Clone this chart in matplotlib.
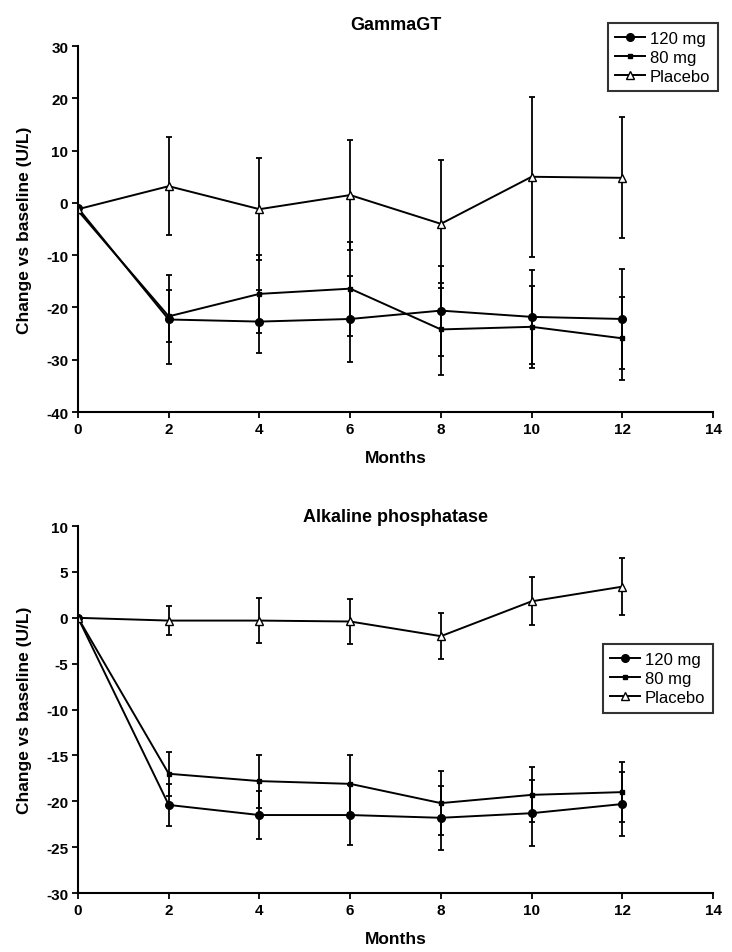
import matplotlib
matplotlib.use("Agg")
import matplotlib.pyplot as plt
from matplotlib.lines import Line2D

plt.rcParams['font.family'] = ['Liberation Sans', 'DejaVu Sans']
plt.rcParams['axes.unicode_minus'] = False

months = [0, 2, 4, 6, 8, 10, 12]

# GammaGT
ggt_120 = [-1.0, -22.3, -22.7, -22.2, -20.6, -21.8, -22.2]
ggt_120_err = [0, 8.5, 6.0, 8.3, 8.6, 9.0, 9.5]
ggt_80 = [-1.5, -21.7, -17.4, -16.4, -24.2, -23.7, -25.9]
ggt_80_err = [0, 5.0, 7.4, 9.0, 8.8, 7.8, 7.9]
ggt_pl = [-1.2, 3.2, -1.2, 1.5, -4.0, 5.0, 4.8]
ggt_pl_err = [0, 9.4, 9.8, 10.6, 12.2, 15.3, 11.6]

# Alkaline phosphatase
alp_120 = [0.0, -20.4, -21.5, -21.5, -21.8, -21.3, -20.3]
alp_120_err = [0, 2.3, 2.6, 3.3, 3.5, 3.6, 3.5]
alp_80 = [0.0, -17.0, -17.8, -18.1, -20.2, -19.3, -19.0]
alp_80_err = [0, 2.4, 2.9, 3.2, 3.5, 3.0, 3.3]
alp_pl = [0.0, -0.3, -0.3, -0.4, -2.0, 1.8, 3.4]
alp_pl_err = [0, 1.6, 2.45, 2.5, 2.5, 2.6, 3.1]

labels = ['120 mg', '80 mg', 'Placebo']

fig = plt.figure(figsize=(7.32, 9.53), dpi=100)
ax1 = fig.add_axes([0.1066, 0.5666, 0.8675, 0.384])
ax2 = fig.add_axes([0.1066, 0.0619, 0.8675, 0.385])

styles = [dict(marker='o', ms=5.5, mfc='black'),
          dict(marker='s', ms=3.5, mfc='black'),
          dict(marker='^', ms=6, mfc='white')]

def draw(ax, series, errs, title, title_pad, yticks, ylim, legend_anchor):
    for y, e, st in zip(series, errs, styles):
        ax.errorbar(months, y, yerr=e, color='black', lw=1.4, elinewidth=1.3,
                    capsize=2, capthick=1.3, mec='black', **st)
    ax.set_xlim(0, 14)
    ax.set_ylim(*ylim)
    ax.set_xticks(range(0, 15, 2))
    ax.set_yticks(yticks)
    for s in ['top', 'right']:
        ax.spines[s].set_visible(False)
    for s in ['left', 'bottom']:
        ax.spines[s].set_linewidth(1.5)
    ax.tick_params(width=1.3, length=4, labelsize=11, pad=3)
    for t in ax.get_xticklabels() + ax.get_yticklabels():
        t.set_fontweight('bold')
    ax.set_title(title, fontsize=13, fontweight='bold', pad=title_pad)
    ax.set_xlabel('Months', fontsize=12.5, fontweight='bold', labelpad=10)
    ax.set_ylabel('Change vs baseline (U/L)', fontsize=12.5, fontweight='bold')
    ax.yaxis.set_label_coords(-0.073, 0.5)
    handles = [Line2D([], [], color='black', lw=1.4, mec='black', **st) for st in styles]
    leg = ax.legend(handles, labels, loc='upper right', bbox_to_anchor=legend_anchor,
                    frameon=True, fancybox=False, edgecolor='black', fontsize=12,
                    handlelength=1.8, borderpad=0.45, labelspacing=0.25,
                    handletextpad=0.3, borderaxespad=0)
    leg.get_frame().set_linewidth(1.5)

draw(ax1, [ggt_120, ggt_80, ggt_pl], [ggt_120_err, ggt_80_err, ggt_pl_err],
     'GammaGT', 12, range(-40, 31, 10), (-40, 30), (1.008, 1.063))
draw(ax2, [alp_120, alp_80, alp_pl], [alp_120_err, alp_80_err, alp_pl_err],
     'Alkaline phosphatase', 4, range(-30, 11, 5), (-30, 10), (1.0, 0.678))

fig.savefig('out.png', dpi=100)
